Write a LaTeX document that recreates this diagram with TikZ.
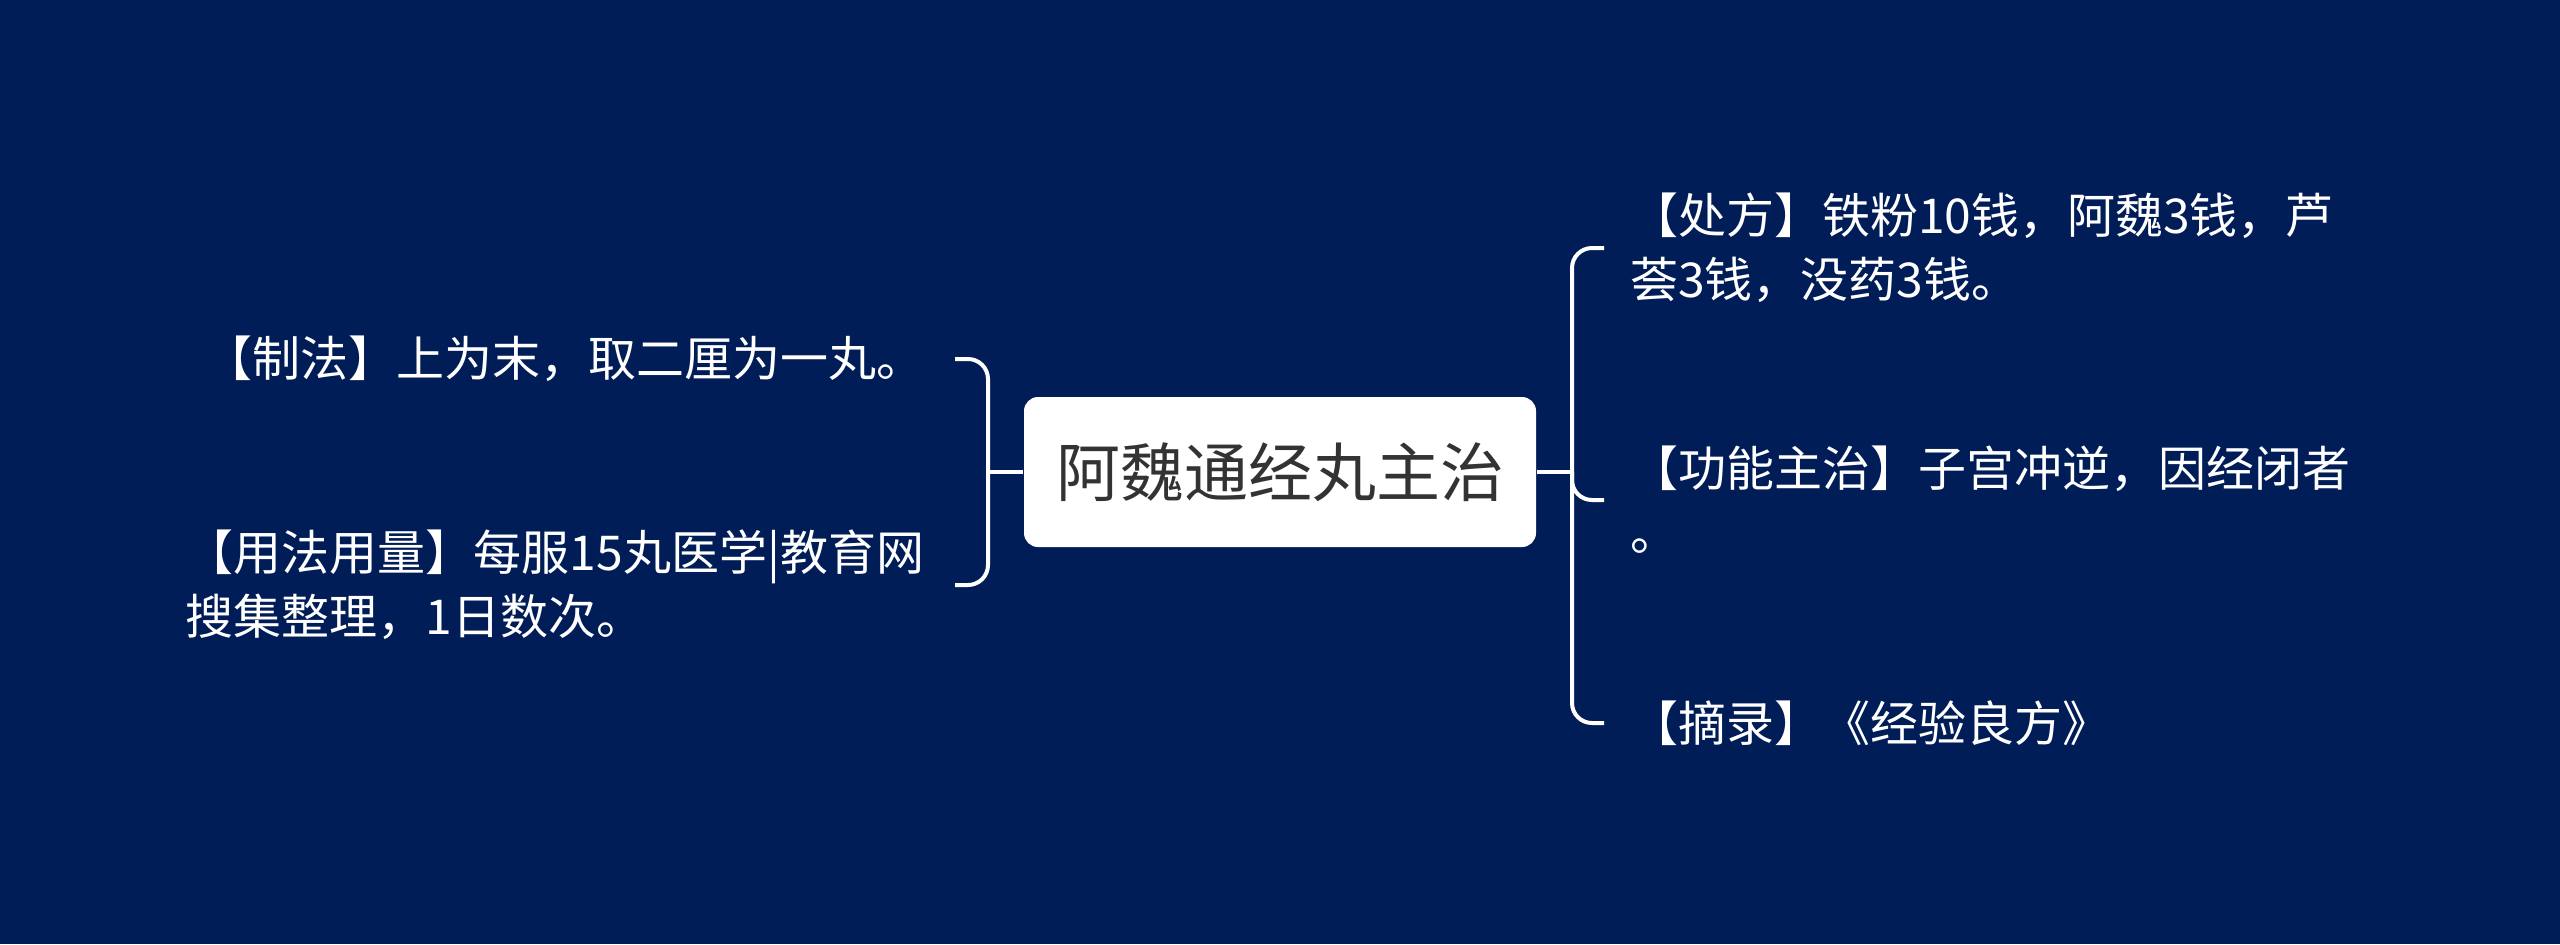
\documentclass[tikz,border=0pt]{standalone}
\usepackage{fontspec}
\setmainfont{Noto Sans CJK SC}
\definecolor{mapNavy}{RGB}{1,29,88}
\definecolor{rootGrey}{RGB}{51,51,51}
\tikzstyle{root}=[rectangle, rounded corners=3.5pt, fill=white, text=rootGrey, minimum width=128pt, minimum height=37.5pt, inner sep=0pt, font=\fontsize{16}{20}\selectfont]
\tikzstyle{leaf}=[text=white, align=left, inner sep=0pt, font=\fontsize{12}{16}\selectfont]
\tikzstyle{leftleaf}=[leaf, anchor=east, outer xsep=7.75pt]
\tikzstyle{rightleaf}=[leaf, anchor=west, outer xsep=6.5pt]
\tikzstyle{branch}=[draw=white, line width=1pt, rounded corners=5pt]

\begin{document}
\begin{tikzpicture}[x=0.25pt, y=-0.25pt]
	% Background
	\fill[mapNavy] (0,0) rectangle (2560,944);

	% Root
	\node[root] (root) at (1280,472) {阿魏通经丸主治};
	\coordinate (lj) at (988,472);
	\coordinate (rj) at (1572,472);

	% Left branches
	\node[leftleaf] (zhifa) at (955,359) {【制法】上为末，取二厘为一丸。};
	\node[leftleaf] (yongfa) at (955,585) {【用法用量】每服15丸医学|教育网\\搜集整理，1日数次。};

	% Right branches
	\node[rightleaf] (chufang) at (1604,248) {【处方】铁粉10钱，阿魏3钱，芦\\荟3钱，没药3钱。};
	\node[rightleaf] (gongneng) at (1604,500) {【功能主治】子宫冲逆，因经闭者\\。};
	\node[rightleaf] (zhailu) at (1604,723) {【摘录】《经验良方》};

	\draw[branch] (root.west) -- (lj);
	\draw[branch] (root.east) -- (rj);
	\foreach \n in {zhifa, yongfa}{ \draw[branch] (lj) |- (\n.east); }
	\foreach \n in {chufang, gongneng, zhailu}{ \draw[branch] (rj) |- (\n.west); }
\end{tikzpicture}
\end{document}
